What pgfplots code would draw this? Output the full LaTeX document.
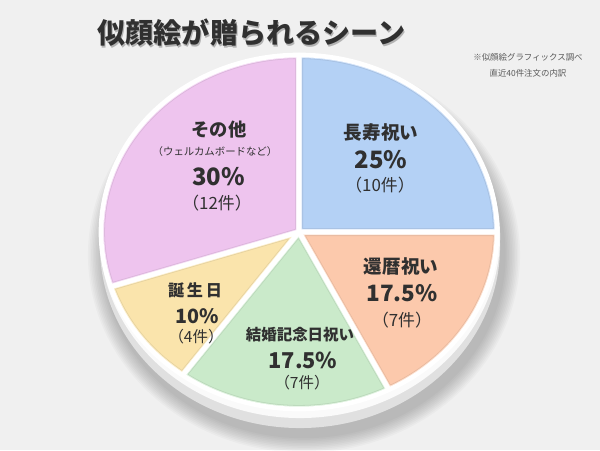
\documentclass[border=0pt]{standalone}
\usepackage{pgfplots}
\pgfplotsset{compat=1.18}
\usepackage{pgfplotstable}
\usepackage{fontspec}
\setmainfont{Noto Sans CJK JP}
\definecolor{bg}{RGB}{240,240,240}
\definecolor{cpink}{RGB}{238,196,238}
\definecolor{cblue}{RGB}{180,209,245}
\definecolor{cpeach}{RGB}{252,201,172}
\definecolor{cgreen}{RGB}{202,234,202}
\definecolor{cyellow}{RGB}{250,228,172}
\definecolor{txt}{RGB}{48,48,48}
\definecolor{platetop}{RGB}{250,250,250}
\definecolor{plateside}{RGB}{224,224,224}

% share of the 40 orders (percent), count, colour
\pgfplotstableread{
value count col
25   10 cblue
17.5 7  cpeach
17.5 7  cgreen
10   4  cyellow
30   12 cpink
}\piedata

\newcommand{\lbl}[1]{\fontsize{#1}{#1}\selectfont}
\newcommand{\slicepath}{(axis cs:299,218) -- ++(\sa:4.95cm and 4.425cm)
      arc[start angle=\sa, end angle=\ea, x radius=4.95cm, y radius=4.425cm] -- cycle}

\begin{document}
\begin{tikzpicture}
\begin{axis}[
  x=0.025cm, y=0.025cm,
  xmin=0, xmax=600, ymin=0, ymax=450,
  hide axis, clip=true,
]
\pgfplotsextra{
  \fill[bg] (axis cs:0,0) rectangle (axis cs:600,450);
  % soft shadow under the plate
  \foreach \k in {1,...,10} {
    \fill[black, opacity=0.022] (axis cs:304,195) ellipse [x radius={5cm+\k*0.04cm}, y radius={4.54cm+\k*0.04cm}];
  }
  % plate side and top
  \fill[plateside] (axis cs:300,203.5) ellipse [x radius=5cm, y radius=4.5375cm];
  \fill[platetop] (axis cs:300,213.5) ellipse [x radius=5cm, y radius=4.5375cm];
  % slices
  \gdef\cum{0}
  \pgfplotsforeachungrouped \i in {0,...,4} {
    \pgfplotstablegetelem{\i}{value}\of\piedata \let\val\pgfplotsretval
    \pgfplotstablegetelem{\i}{col}\of\piedata \let\slicecol\pgfplotsretval
    \pgfmathsetmacro\sa{90-3.6*\cum}
    \pgfmathsetmacro\ea{90-3.6*(\cum+\val)}
    \pgfmathsetmacro\newcum{\cum+\val}
    \global\let\cum\newcum
    \fill[\slicecol] \slicepath;
    \begin{scope}
      \clip \slicepath;
      \draw[\slicecol!82!black, opacity=0.45, line width=0.2cm] \slicepath;
      \draw[\slicecol!60!white, line width=0.16cm] \slicepath;
    \end{scope}
  }
  \gdef\cum{0}
  \pgfplotsforeachungrouped \i in {0,...,4} {
    \pgfplotstablegetelem{\i}{value}\of\piedata \let\val\pgfplotsretval
    \pgfmathsetmacro\sa{90-3.6*\cum}
    \pgfmathsetmacro\ea{90-3.6*(\cum+\val)}
    \pgfmathsetmacro\newcum{\cum+\val}
    \global\let\cum\newcum
    \draw[white, line width=0.115cm, line join=round] \slicepath;
  }
  % title
  \node[font=\lbl{20}\bfseries, text=black, opacity=0.25] at (axis cs:252.5,415) {似顔絵が贈られるシーン};
  \node[font=\lbl{20}\bfseries, text=txt] at (axis cs:251.5,417) {似顔絵が贈られるシーン};
  % note
  \node[font=\lbl{6}, text=black!65] at (axis cs:528,393) {※似顔絵グラフィックス調べ};
  \node[font=\lbl{6}, text=black!65] at (axis cs:528,377) {直近40件注文の内訳};
  % その他
  \node[font=\lbl{13}\bfseries, text=txt] at (axis cs:219,320) {その他};
  \node[font=\lbl{7.4}, text=txt] at (axis cs:215,298) {（ウェルカムボードなど）};
  \node[font=\lbl{17}\bfseries, text=txt] at (axis cs:218.5,273) {30\%};
  \node[font=\lbl{12}, text=txt] at (axis cs:217,247) {（12件）};
  % 長寿祝い
  \node[font=\lbl{13.2}\bfseries, text=txt] at (axis cs:381,318) {長寿祝い};
  \node[font=\lbl{17}\bfseries, text=txt] at (axis cs:381,290) {25\%};
  \node[font=\lbl{12}, text=txt] at (axis cs:380,265) {（10件）};
  % 還暦祝い
  \node[font=\lbl{13.2}\bfseries, text=txt] at (axis cs:401,183) {還暦祝い};
  \node[font=\lbl{16}\bfseries, text=txt] at (axis cs:402,157) {17.5\%};
  \node[font=\lbl{12}, text=txt] at (axis cs:402,130) {（7件）};
  % 誕生日
  \node[font=\lbl{11.5}\bfseries, text=txt] at (axis cs:195,160) {誕\,生\,日};
  \node[font=\lbl{14}\bfseries, text=txt] at (axis cs:197,134) {10\%};
  \node[font=\lbl{11}, text=txt] at (axis cs:196,113) {（4件）};
  % 結婚記念日祝い
  \node[font=\lbl{11}\bfseries, text=txt] at (axis cs:300,115) {結婚記念日祝い};
  \node[font=\lbl{15.5}\bfseries, text=txt] at (axis cs:303,90) {17.5\%};
  \node[font=\lbl{11}, text=txt] at (axis cs:302,67) {（7件）};
}
\end{axis}
\end{tikzpicture}
\end{document}
